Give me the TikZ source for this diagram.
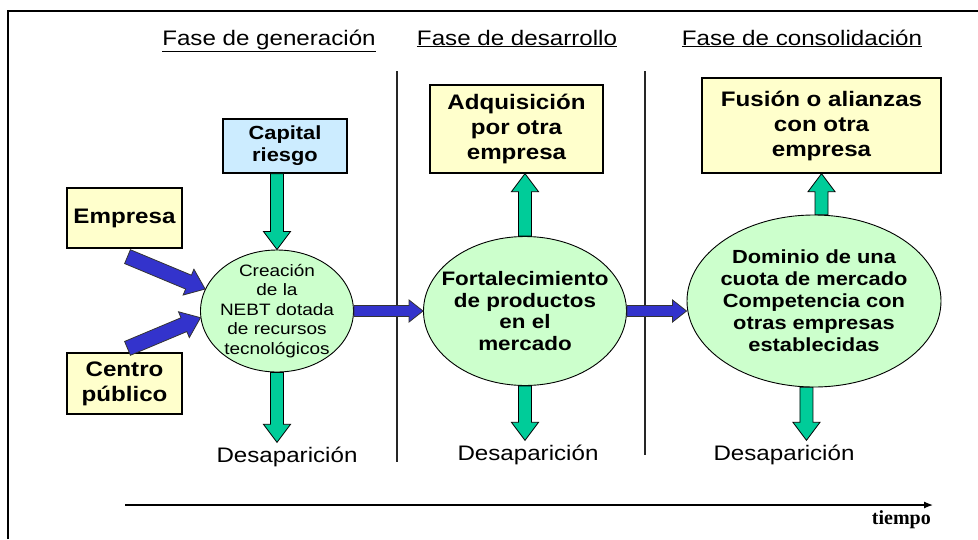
\documentclass[tikz,border=0pt]{standalone}
\usepackage{fontspec}
\setmainfont{Liberation Sans}[FakeStretch=1.15]
\newfontfamily\tiempofont{Liberation Serif}
\usetikzlibrary{shapes.geometric,calc,arrows.meta}
\definecolor{cajaam}{RGB}{255,255,204}
\definecolor{cajaaz}{RGB}{204,236,255}
\definecolor{globoverde}{RGB}{204,255,204}
\definecolor{flechaverde}{RGB}{0,204,153}
\definecolor{flechaazul}{RGB}{51,51,204}
\tikzset{
    fat len/.store in=\fatLen,
    fat shaft/.store in=\fatShaft,
    fat head/.store in=\fatHead,
    fat len=18pt, fat shaft=6.5pt, fat head=13.5pt
}
% flecha gruesa con contorno: estilo, origen, destino
\newcommand{\fatarrow}[3]{%
    \begin{scope}[#1]
        \coordinate (fb) at ($(#3)!\fatLen!(#2)$);
        \filldraw ($(#2)!\fatShaft!90:(#3)$) -- ($(fb)!\fatShaft!-90:(#2)$)
            -- ($(fb)!\fatHead!-90:(#2)$) -- (#3)
            -- ($(fb)!\fatHead!90:(#2)$) -- ($(fb)!\fatShaft!90:(#2)$)
            -- ($(#2)!\fatShaft!-90:(#3)$) -- cycle;
    \end{scope}}

\begin{document}
\begin{tikzpicture}[x=1pt, y=-1pt, line join=miter]

    \tikzstyle{fase} = [
        anchor=base,
        inner sep=0pt,
        font=\fontsize{21}{25}\selectfont
    ]
    \tikzstyle{caja} = [
        draw=black,
        line width=1.3pt,
        fill=cajaam,
        align=center,
        inner sep=0pt,
        font=\fontsize{21}{25}\selectfont\bfseries
    ]
    \tikzstyle{globo} = [
        ellipse,
        draw=black,
        line width=0.9pt,
        fill=globoverde,
        inner sep=0pt
    ]
    \tikzstyle{texto globo} = [
        align=center,
        inner sep=0pt,
        font=\fontsize{19.5}{21.5}\selectfont\bfseries
    ]
    \tikzstyle{desap} = [
        anchor=base,
        inner sep=4pt,
        font=\fontsize{21}{25}\selectfont
    ]
    \tikzstyle{divisor} = [line width=1.3pt, draw=black!85]
    \tikzstyle{verde} = [fill=flechaverde, draw=black, line width=0.8pt,
        fat len=18pt, fat shaft=6.5pt, fat head=13.5pt]
    \tikzstyle{azul} = [fill=flechaazul, draw=black!80, line width=0.8pt,
        fat len=18pt, fat shaft=7.5pt, fat head=14pt]
    \tikzstyle{azul fino} = [fill=flechaazul, draw=black!80, line width=0.8pt,
        fat len=14pt, fat shaft=5.5pt, fat head=11pt]

    \useasboundingbox (0,0) rectangle (978,539);

    % marco
    \draw[line width=2pt] (8,539) -- (8,11) -- (978,11);

    % fases
    \node[fase] (h1) at (269,45) {\underline{Fase de generación}};
    \node[fase] (h2) at (517,45) {\underline{Fase de desarrollo}};
    \node[fase] (h3) at (802,45) {\underline{Fase de consolidación}};

    \draw[divisor] (397,71) -- (397,462);
    \draw[divisor] (645,71) -- (645,455);

    % cajas
    \node[caja, fill=cajaaz, minimum width=124pt, minimum height=54pt,
        font=\fontsize{19}{22}\selectfont\bfseries] (cap) at (285,146) {Capital\\riesgo};
    \node[caja, minimum width=115pt, minimum height=60pt] (emp) at (124.5,218) {Empresa};
    \node[caja, minimum width=115pt, minimum height=61pt] (cen) at (124.5,383.5) {Centro\\público};
    \node[caja, minimum width=173pt, minimum height=88pt] (adq) at (516.5,129) {Adquisición\\por otra\\empresa};
    \node[caja, minimum width=239pt, minimum height=95pt] (fus) at (821.5,125.5) {Fusión o alianzas\\con otra\\empresa};

    % globos
    \node[globo, minimum width=153pt, minimum height=122pt,
        label={[texto globo, font=\fontsize{16.5}{19.5}\selectfont]center:{Creación\\de la\\NEBT dotada\\de recursos\\tecnológicos}}] (e1) at (277,311) {};
    \node[globo, minimum width=203pt, minimum height=149pt,
        label={[texto globo]center:{Fortalecimiento\\de productos\\en el\\mercado}}] (e2) at (525,311) {};
    \node[globo, minimum width=254pt, minimum height=172pt,
        label={[texto globo, font=\fontsize{19}{22}\selectfont\bfseries]center:{Dominio de una\\cuota de mercado\\Competencia con\\otras empresas\\establecidas}}] (e3) at (814,301) {};

    \node[desap] (d1) at (287,462) {Desaparición};
    \node[desap] (d2) at (528,460) {Desaparición};
    \node[desap] (d3) at (784,460) {Desaparición};

    % flechas verdes
    \coordinate (c1) at (e1.north |- cap.south);
    \coordinate (c2) at (e1.south |- d1.north);
    \coordinate (c3) at (e2.north |- adq.south);
    \coordinate (c4) at (e2.south |- d2.north);
    \coordinate (c5) at (e3.85 |- fus.south);
    \coordinate (c6) at (e3.265 |- d3.north);
    \fatarrow{verde}{c1}{e1.north}
    \fatarrow{verde}{e1.south}{c2}
    \fatarrow{verde}{e2.north}{c3}
    \fatarrow{verde}{e2.south}{c4}
    \fatarrow{verde}{e3.85}{c5}
    \fatarrow{verde}{e3.265}{c6}

    % flechas azules
    \coordinate (b1) at ($(emp.south)+(3,8)$);
    \coordinate (b2) at ($(cen.north)+(3,-4)$);
    \coordinate (b3) at (e2.east -| e3.west);
    \fatarrow{azul}{b1}{e1.163}
    \fatarrow{azul}{b2}{e1.185}
    \fatarrow{azul fino}{e1.east}{e2.west}
    \fatarrow{azul fino}{e2.east}{b3}

    % eje del tiempo
    \coordinate (t0) at (125,505);
    \coordinate (t1) at (933,505);
    \draw[line width=1.2pt, -{Latex[length=9pt,width=7pt]}] (t0) -- (t1);
    \node[anchor=base east, inner sep=0pt, font=\tiempofont\bfseries\fontsize{20}{22}\selectfont] (tie) at (931,524) {tiempo};

\end{tikzpicture}
\end{document}
